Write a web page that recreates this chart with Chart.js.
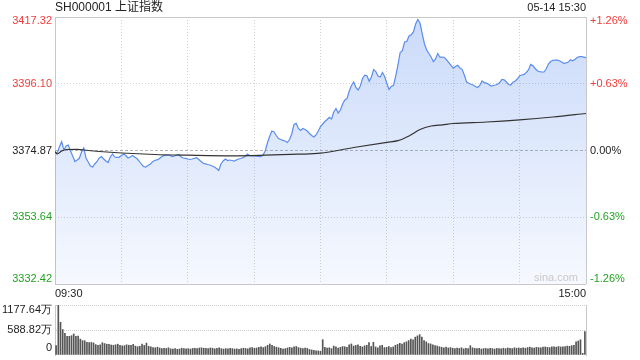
<!DOCTYPE html>
<html>
<head>
<meta charset="utf-8">
<script src="https://cdn.jsdelivr.net/npm/chart.js@4/dist/chart.umd.min.js"></script>
<style>
  body { margin: 0; background: #fff; }
  #wrap { position: relative; width: 640px; height: 360px; }
  canvas { position: absolute; left: 0; }
  #priceChart { top: 0; }
  #volChart { top: 300px; }
</style>
</head>
<body>
<div id="wrap">
  <canvas id="priceChart" width="640" height="300"></canvas>
  <canvas id="volChart" width="640" height="60"></canvas>
</div>
<script>
// 上证指数 intraday, 05-14
const title = "SH000001 上证指数";
const stamp = "05-14 15:30";
const prevClose = 3374.87;
const priceTicks = [3417.32, 3396.10, 3374.87, 3353.64, 3332.42];
const priceLabels = ["3417.32", "3396.10", "3374.87", "3353.64", "3332.42"];
const pctLabels = ["+1.26%", "+0.63%", "0.00%", "-0.63%", "-1.26%"];
const timeLabels = ["09:30", "15:00"];
const volTicks = [1177.64, 588.82, 0];
const volLabels = ["1177.64万", "588.82万", "0"];

// one price per minute, 241 points (09:30-11:30, 13:01-15:00)
const prices = [
  3374.49, 3374.08, 3375.98, 3377.67, 3375.03, 3376.30, 3376.62, 3374.71, 3373.12, 3371.37,
  3371.85, 3372.39, 3374.39, 3375.67, 3372.49, 3371.21, 3369.94, 3369.62, 3370.58, 3371.37,
  3372.49, 3372.96, 3372.17, 3371.53, 3371.05, 3372.80, 3373.76, 3372.80, 3372.71, 3372.71,
  3373.28, 3373.76, 3373.28, 3372.49, 3372.80, 3373.28, 3372.80, 3372.33, 3371.53, 3370.58,
  3369.78, 3369.62, 3370.10, 3370.48, 3371.21, 3371.69, 3371.91, 3372.17, 3372.80, 3373.22,
  3373.34, 3373.44, 3373.28, 3372.96, 3373.12, 3373.44, 3373.60, 3372.80, 3372.49, 3372.36,
  3372.17, 3372.01, 3372.17, 3372.39, 3372.58, 3372.01, 3371.37, 3370.80, 3370.64, 3370.42,
  3370.26, 3369.94, 3369.62, 3369.15, 3368.51, 3370.58, 3371.53, 3372.17, 3371.69, 3371.85,
  3371.69, 3371.53, 3371.85, 3372.17, 3372.33, 3372.64, 3372.96, 3373.76, 3373.28, 3373.19,
  3373.12, 3373.06, 3372.99, 3372.93, 3373.44, 3374.71, 3377.26, 3379.32, 3381.07, 3380.75,
  3379.64, 3378.69, 3378.37, 3378.11, 3377.89, 3377.41, 3378.37, 3380.12, 3383.14, 3383.52,
  3381.87, 3381.23, 3381.87, 3381.55, 3381.07, 3380.28, 3379.64, 3379.16, 3379.80, 3381.07,
  3382.50, 3383.30, 3384.09, 3384.73, 3385.43, 3384.89, 3387.11, 3388.23, 3386.80, 3387.75,
  3389.66, 3390.93, 3391.41, 3393.79, 3395.54, 3396.65, 3394.90, 3394.11, 3395.38, 3397.77,
  3398.82, 3398.63, 3396.88, 3398.24, 3400.63, 3399.99, 3398.56, 3398.24, 3399.67, 3398.40,
  3396.18, 3394.27, 3395.22, 3395.60, 3398.56, 3402.06, 3406.03, 3406.61, 3409.37, 3409.53,
  3411.28, 3411.70, 3412.55, 3415.10, 3416.53, 3415.32, 3411.92, 3408.74, 3406.83, 3405.72,
  3404.60, 3403.11, 3403.97, 3405.72, 3404.54, 3404.60, 3404.44, 3403.71, 3402.85, 3401.96,
  3401.04, 3401.58, 3401.96, 3401.11, 3400.69, 3398.88, 3396.69, 3396.27, 3395.92, 3395.70,
  3395.22, 3394.90, 3395.54, 3396.97, 3396.46, 3396.30, 3395.95, 3395.38, 3395.54, 3395.70,
  3395.92, 3396.49, 3397.48, 3397.35, 3396.65, 3395.86, 3395.70, 3396.59, 3396.97, 3397.61,
  3398.66, 3398.88, 3399.07, 3399.67, 3400.47, 3402.22, 3401.81, 3400.95, 3400.22, 3399.93,
  3399.83, 3399.83, 3400.79, 3402.38, 3403.14, 3403.55, 3403.65, 3403.62, 3403.40, 3403.01,
  3402.60, 3402.73, 3402.98, 3403.71, 3403.40, 3403.81, 3404.44, 3404.70, 3404.70, 3404.54,
  3404.38
];

// average price line, read at these minutes
const avgIdx = [0, 1, 3, 5, 10, 15, 20, 30, 45, 60, 80, 95, 110, 120, 135, 150, 155, 160, 165, 170, 175, 180, 195, 210, 225, 240];
const avgVal = [3374.49, 3373.76, 3374.71, 3375.19, 3375.25, 3374.87, 3374.56, 3374.08, 3373.60, 3373.38,
                3373.19, 3373.38, 3373.69, 3374.01, 3375.82, 3377.48, 3377.99, 3379.48, 3381.55, 3382.66,
                3383.04, 3383.46, 3383.93, 3384.63, 3385.53, 3386.64];

// volume per minute, 万
const volumes = [
  220, 1177.64, 770, 600, 510, 440, 440, 455, 495, 440,
  445, 375, 340, 335, 300, 290, 295, 285, 245, 225,
  240, 290, 270, 255, 250, 235, 230, 240, 255, 225,
  215, 220, 240, 230, 225, 250, 210, 195, 205, 260,
  225, 280, 205, 190, 175, 170, 185, 165, 150, 160,
  155, 170, 145, 140, 150, 135, 140, 160, 150, 145,
  150, 140, 155, 160, 150, 165, 170, 160, 155, 150,
  165, 160, 145, 155, 170, 150, 140, 150, 145, 160,
  150, 140, 145, 135, 150, 160, 155, 145, 170, 175,
  160, 165, 180, 190, 175, 195, 230, 260, 230, 200,
  185, 170, 160, 140, 150, 165, 180, 170, 190, 200,
  175, 160, 150, 165, 155, 130, 120, 110, 100, 95,
  90, 360, 180, 165, 170, 150, 210, 190, 165, 180,
  200, 195, 180, 240, 260, 210, 225, 240, 205, 190,
  215, 230, 290, 200, 300, 190, 170, 215, 230, 175,
  180, 200, 175, 190, 230, 250, 275, 260, 290, 310,
  340, 375, 360, 420, 450, 480, 420, 340, 310, 270,
  260, 240, 220, 210, 195, 180, 170, 185, 165, 175,
  160, 150, 165, 155, 170, 145, 160, 150, 220, 170,
  155, 150, 160, 140, 150, 155, 145, 160, 150, 140,
  155, 150, 145, 160, 150, 165, 155, 150, 170, 160,
  165, 155, 170, 160, 175, 185, 170, 165, 180, 175,
  170, 185, 190, 180, 175, 190, 195, 185, 200, 190,
  195, 200, 210, 205, 220, 230, 310, 330, 360, 40,
  550
];

const RED = "#f03c3c";
const GREEN = "#21a321";
const DARK = "#222";
const FONT = '11px "Liberation Sans", Arial, sans-serif';
const tickColors = [RED, RED, DARK, GREEN, GREEN];

function gridColor(ctx, n, mid) {
    if (ctx.index === 0 || ctx.index === n - 1) return "#c8c8c8";
    if (mid && ctx.tick && ctx.tick.value === mid) return "#b4b4b4";
    return "#d2d2d2";
}

let priceLine = prices.map((v, i) => ({ x: i, y: v }));
let avgLine = avgIdx.map((i, k) => ({ x: i, y: avgVal[k] }));

const textPlugin = {
    id: "textPlugin",
    afterDraw(chart) {
        let ctx = chart.ctx;
        let a = chart.chartArea;
        let y = chart.scales.y;
        ctx.save();
        ctx.font = FONT;
        ctx.textBaseline = "middle";
        priceTicks.forEach((v, i) => {
            let py = y.getPixelForValue(v);
            if (i === 0) py += 4;
            if (i === priceTicks.length - 1) py -= 5;
            ctx.fillStyle = tickColors[i];
            ctx.textAlign = "right";
            ctx.fillText(priceLabels[i], a.left - 3, py);
            ctx.textAlign = "left";
            ctx.fillText(pctLabels[i], a.right + 4, py);
        });
        // time labels under the plot
        ctx.fillStyle = DARK;
        ctx.textAlign = "left";
        ctx.fillText(timeLabels[0], a.left, a.bottom + 10);
        ctx.textAlign = "right";
        ctx.fillText(timeLabels[1], a.right, a.bottom + 10);
        // watermark
        ctx.fillStyle = "#c9c9c9";
        ctx.fillText("sina.com", a.right - 8, a.bottom - 6);
        // header
        ctx.fillStyle = DARK;
        ctx.font = '12px "Liberation Sans", Arial, "Noto Sans CJK SC", sans-serif';
        ctx.textAlign = "left";
        ctx.fillText(title, a.left, 8);
        ctx.font = FONT;
        ctx.textAlign = "right";
        ctx.fillText(stamp, a.right, 8);
        ctx.restore();
    }
};

new Chart(document.getElementById("priceChart"), {
    type: "line",
    data: {
        datasets: [{
            data: avgLine,
            borderColor: "#333",
            borderWidth: 1.2,
            pointRadius: 0,
            cubicInterpolationMode: "monotone",
            fill: false
        }, {
            data: priceLine,
            borderColor: "#5b8def",
            borderWidth: 1.2,
            pointRadius: 0,
            tension: 0,
            fill: "start",
            backgroundColor: function (c) {
                let a = c.chart.chartArea;
                if (!a) return "rgba(91,141,239,0.2)";
                let g = c.chart.ctx.createLinearGradient(0, a.top, 0, a.bottom);
                g.addColorStop(0, "rgba(91,141,239,0.32)");
                g.addColorStop(1, "rgba(91,141,239,0.06)");
                return g;
            }
        }]
    },
    options: {
        responsive: false,
        animation: false,
        layout: { padding: { left: 55, right: 54, top: 17, bottom: 16 } },
        plugins: { legend: { display: false }, tooltip: { enabled: false } },
        scales: {
            x: {
                type: "linear",
                min: 0,
                max: 240,
                ticks: { display: false, stepSize: 30 },
                grid: {
                    drawTicks: false,
                    color: c => gridColor(c, 9)
                },
                border: {
                    display: false,
                    dash: c => (c.index === 0 || c.index === 8) ? [] : [1, 2]
                },
                afterFit: s => { s.height = 0; }
            },
            y: {
                min: priceTicks[4],
                max: priceTicks[0],
                afterBuildTicks: s => { s.ticks = priceTicks.map(v => ({ value: v })); },
                ticks: { display: false },
                grid: {
                    drawTicks: false,
                    color: c => gridColor(c, 5, prevClose)
                },
                border: {
                    display: false,
                    dash: c => {
                        if (c.index === 0 || c.index === 4) return [];
                        if (c.tick && c.tick.value === prevClose) return [3, 2];
                        return [1, 2];
                    }
                },
                afterFit: s => { s.width = 0; }
            }
        }
    },
    plugins: [textPlugin]
});

const volTextPlugin = {
    id: "volTextPlugin",
    afterDraw(chart) {
        let ctx = chart.ctx;
        let a = chart.chartArea;
        let y = chart.scales.y;
        ctx.save();
        ctx.font = FONT;
        ctx.textBaseline = "middle";
        ctx.textAlign = "right";
        ctx.fillStyle = DARK;
        volTicks.forEach((v, i) => {
            let py = y.getPixelForValue(v);
            if (i === 0) py += 5;
            if (i === volTicks.length - 1) py -= 7;
            ctx.fillText(volLabels[i], a.left - 3, py);
        });
        ctx.restore();
    }
};

new Chart(document.getElementById("volChart"), {
    type: "bar",
    data: {
        labels: volumes.map((v, i) => i),
        datasets: [{
            data: volumes,
            backgroundColor: "#555",
            barThickness: 1,
            borderWidth: 0
        }]
    },
    options: {
        responsive: false,
        animation: false,
        layout: { padding: { left: 55, right: 54, top: 5, bottom: 5 } },
        plugins: { legend: { display: false }, tooltip: { enabled: false } },
        scales: {
            x: {
                ticks: { display: false },
                grid: { display: false },
                border: { display: false },
                afterFit: s => { s.height = 0; }
            },
            y: {
                min: 0,
                max: volTicks[0],
                afterBuildTicks: s => { s.ticks = volTicks.map(v => ({ value: v })); },
                ticks: { display: false },
                grid: {
                    drawTicks: false,
                    color: c => c.tick && c.tick.value === 0 ? "rgba(0,0,0,0)" : "#cfcfcf"
                },
                border: { display: true, color: "#c8c8c8", dash: [1, 1] },
                afterFit: s => { s.width = 0; }
            },
            yr: {
                position: "right",
                min: 0,
                max: volTicks[0],
                ticks: { display: false },
                grid: { display: false },
                border: { display: true, color: "#c8c8c8" },
                afterFit: s => { s.width = 0; }
            }
        }
    },
    plugins: [volTextPlugin]
});
</script>
</body>
</html>
